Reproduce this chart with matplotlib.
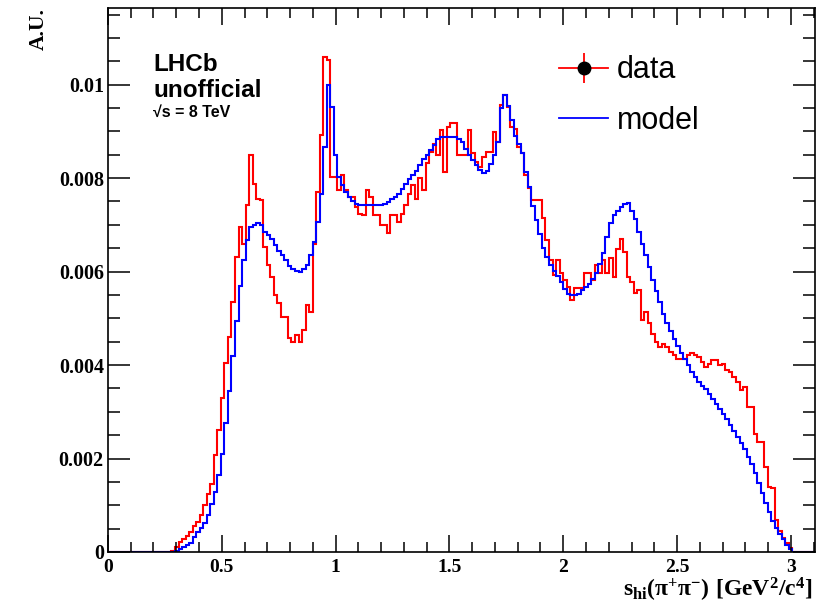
import numpy as np
import matplotlib
matplotlib.use('Agg')
import matplotlib.pyplot as plt
from matplotlib.lines import Line2D
from matplotlib.legend_handler import HandlerTuple
from matplotlib.ticker import MultipleLocator, FuncFormatter

plt.rcParams['mathtext.fontset'] = 'custom'
plt.rcParams['mathtext.rm'] = 'Liberation Serif:bold'
plt.rcParams['mathtext.it'] = 'Liberation Serif:bold'
plt.rcParams['mathtext.bf'] = 'Liberation Serif:bold'

# histogram binning: 200 bins over [0, 3.1], first filled bin is 18
n_bins = 200
x_max_hist = 3.1
first_bin = 18

# model (blue), units of 1e-3, bins 18..193
model = [
    0.01, 0.03, 0.06, 0.10, 0.15, 0.20, 0.32, 0.42, 0.52, 0.63,
    0.80, 1.02, 1.28, 1.65, 2.10, 2.75, 3.45, 4.20, 4.95, 5.70,
    6.24, 6.67, 6.96, 7.00, 7.03, 6.99, 6.85, 6.78, 6.70, 6.56,
    6.45, 6.36, 6.24, 6.12, 6.06, 6.02, 5.99, 6.05, 6.14, 6.35,
    6.64, 7.06, 7.67, 8.67, 9.99, 9.52, 8.49, 8.03, 7.86, 7.71,
    7.60, 7.52, 7.45, 7.42, 7.42, 7.42, 7.42, 7.42, 7.42, 7.42,
    7.44, 7.48, 7.55, 7.60, 7.67, 7.76, 7.87, 7.97, 8.06, 8.16,
    8.28, 8.40, 8.50, 8.60, 8.71, 8.83, 8.88, 8.89, 8.89, 8.89,
    8.89, 8.84, 8.78, 8.62, 8.50, 8.38, 8.27, 8.18, 8.11, 8.15,
    8.30, 8.49, 8.78, 9.49, 9.78, 9.55, 9.25, 8.90, 8.74, 8.53,
    8.13, 7.81, 7.40, 7.10, 6.80, 6.50, 6.32, 6.15, 6.02, 5.90,
    5.78, 5.62, 5.52, 5.49, 5.50, 5.53, 5.60, 5.67, 5.74, 5.84,
    5.98, 6.17, 6.40, 6.75, 7.03, 7.22, 7.30, 7.38, 7.44, 7.46,
    7.30, 7.12, 6.85, 6.60, 6.35, 6.10, 5.82, 5.58, 5.35, 5.10,
    4.90, 4.72, 4.55, 4.40, 4.26, 4.14, 4.00, 3.86, 3.74, 3.63,
    3.56, 3.48, 3.38, 3.28, 3.17, 3.06, 2.95, 2.84, 2.71, 2.59,
    2.47, 2.33, 2.21, 2.04, 1.89, 1.68, 1.48, 1.27, 1.05, 0.85,
    0.66, 0.52, 0.38, 0.27, 0.16, 0.06,
]

# data (red), units of 1e-3, bins 18..193
data = [
    0.02, 0.10, 0.22, 0.28, 0.35, 0.42, 0.55, 0.65, 0.80, 1.00,
    1.25, 1.45, 2.07, 2.60, 3.29, 4.04, 4.60, 5.35, 6.31, 6.96,
    6.60, 7.42, 8.49, 7.88, 7.55, 7.53, 6.53, 6.14, 5.89, 5.49,
    5.32, 5.03, 5.03, 4.57, 4.50, 4.64, 4.50, 4.75, 5.28, 5.14,
    6.60, 7.70, 8.92, 10.60, 10.52, 8.03, 8.03, 7.74, 8.06, 7.74,
    7.60, 7.60, 7.38, 7.24, 7.21, 7.74, 7.60, 7.21, 7.21, 6.99,
    6.99, 6.83, 7.21, 7.21, 7.05, 7.24, 7.42, 7.67, 7.85, 7.56,
    8.00, 7.74, 8.33, 8.56, 8.74, 8.49, 9.03, 8.13, 9.10, 9.17,
    9.17, 8.49, 8.49, 8.49, 9.03, 8.53, 8.35, 8.24, 8.46, 8.56,
    8.56, 8.99, 8.78, 9.56, 9.77, 9.52, 9.10, 9.06, 8.67, 8.53,
    8.06, 7.78, 7.53, 7.53, 7.53, 7.14, 6.67, 6.24, 5.92, 6.24,
    5.96, 5.81, 5.67, 5.39, 5.64, 5.64, 5.64, 5.96, 5.96, 5.82,
    6.14, 5.96, 6.24, 5.96, 6.28, 5.89, 6.49, 6.70, 6.42, 5.89,
    5.78, 5.55, 5.60, 4.96, 5.14, 4.89, 4.67, 4.50, 4.39, 4.46,
    4.39, 4.28, 4.21, 4.14, 4.14, 4.14, 4.21, 4.25, 4.21, 4.17,
    4.07, 3.95, 4.03, 4.10, 4.10, 4.00, 4.03, 3.89, 3.85, 3.75,
    3.64, 3.46, 3.53, 3.10, 3.10, 2.53, 2.35, 2.35, 1.82, 1.39,
    1.36, 0.68, 0.45, 0.30, 0.20, 0.08,
]

x_ticks = [0, 0.5, 1, 1.5, 2, 2.5, 3]
y_ticks = [0, 0.002, 0.004, 0.006, 0.008, 0.01]


def full_hist(vals):
    h = np.zeros(n_bins)
    h[first_bin:first_bin + len(vals)] = np.array(vals) * 1e-3
    return h


edges = np.linspace(0, x_max_hist, n_bins + 1)

fig = plt.figure(figsize=(8.28, 6.04), dpi=100)
ax = fig.add_axes([0.1304, 0.0861, 0.8539, 0.9007])

ax.stairs(full_hist(data), edges, color='#ff0000', lw=1.5, baseline=None)
ax.stairs(full_hist(model), edges, color='#0000ff', lw=1.5, baseline=None)

ax.set_xlim(0, 3.106)
ax.set_ylim(0, 0.01164)

ax.set_xticks(x_ticks)
ax.set_yticks(y_ticks)
ax.xaxis.set_minor_locator(MultipleLocator(0.1))
ax.yaxis.set_minor_locator(MultipleLocator(0.0005))
ax.xaxis.set_major_formatter(FuncFormatter(lambda v, p: '%g' % v))
ax.yaxis.set_major_formatter(FuncFormatter(lambda v, p: '%g' % v))

ax.tick_params(which='both', direction='in', top=True, right=True, width=1.1)
ax.tick_params(axis='x', which='major', length=12, pad=5)
ax.tick_params(axis='x', which='minor', length=7)
ax.tick_params(axis='y', which='major', length=16, pad=3)
ax.tick_params(axis='y', which='minor', length=8.5)
for lab in ax.get_xticklabels():
    lab.set_fontfamily('Liberation Serif')
    lab.set_fontweight('bold')
    lab.set_fontsize(14)
for lab in ax.get_yticklabels():
    lab.set_fontfamily('Liberation Serif')
    lab.set_fontweight('bold')
    lab.set_fontsize(14.5)
for sp in ax.spines.values():
    sp.set_linewidth(1.2)

ax.set_xlabel(r'$\mathrm{s_{hi}(\pi^{+}\pi^{-})\ [GeV^{2}/c^{4}]}$', fontsize=17, loc='right')
ax.xaxis.set_label_coords(0.996, -0.044)
ax.set_ylabel('A.U.', fontsize=15.5, fontfamily='Liberation Serif', fontweight='bold', loc='top')
ax.yaxis.set_label_coords(-0.084, 1.0)

sans = ['Liberation Sans', 'DejaVu Sans']
ax.text(0.064, 0.884, 'LHCb', transform=ax.transAxes, fontsize=17.5,
        fontweight='bold', family=sans, va='baseline')
ax.text(0.064, 0.836, 'unofficial', transform=ax.transAxes, fontsize=17.5,
        fontweight='bold', family=sans, va='baseline')
ax.text(0.064, 0.800, '\u221as = 8 TeV', transform=ax.transAxes, fontsize=11.5,
        fontweight='bold', family=sans, va='baseline')

# legend
h_line = Line2D([], [], color='#ff0000', lw=1.3)
h_vbar = Line2D([], [], color='#ff0000', marker='|', markersize=22, mew=1.3, ls='none')
h_dot = Line2D([], [], color='k', marker='o', markersize=9, ls='none')
h_model = Line2D([], [], color='#0000ff', lw=1.3)
ax.legend([(h_line, h_vbar, h_dot), h_model], ['data', 'model'],
          handler_map={tuple: HandlerTuple(ndivide=1)},
          loc='upper left', bbox_to_anchor=(0.638, 0.913), frameon=False,
          borderpad=0, borderaxespad=0, handlelength=1.6, handletextpad=0.28,
          labelspacing=0.68, prop={'family': sans, 'size': 22})

fig.savefig('out.png', dpi=100)
